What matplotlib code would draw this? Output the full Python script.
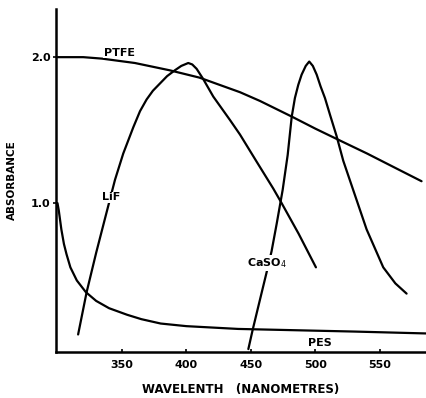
import matplotlib.pyplot as plt

# Absorbance spectra read along wavelength (nm)
ptfe_nm = [300, 320, 334.5, 360, 387, 410, 441.5, 457, 482.3, 500, 516.4, 540, 560, 582.3]
ptfe_abs = [2.0, 2.0, 1.99, 1.96, 1.91, 1.86, 1.76, 1.70, 1.59, 1.51, 1.44, 1.34, 1.25, 1.15]

lif_nm = [316, 322.6, 330, 337, 344.6, 351, 358.8, 364, 369.1, 374, 379.5, 385, 391, 396,
          401.4, 404.5, 407.9, 413, 420.8, 433.7, 441.5, 454, 467.3, 473.8, 487, 500.4]
lif_abs = [0.10, 0.39, 0.66, 0.90, 1.16, 1.34, 1.52, 1.63, 1.71, 1.77, 1.82, 1.87, 1.91, 1.94,
           1.96, 1.95, 1.92, 1.85, 1.73, 1.57, 1.47, 1.29, 1.10, 1.00, 0.79, 0.56]

caso4_nm = [448, 451.3, 455.4, 462, 466, 470, 474.6, 478.5, 481.6, 484.1, 486.7, 489.3,
            492.5, 495.2, 498, 501, 504, 507.4, 511.5, 516.4, 521.6, 529.3, 539.7, 552.6, 562, 570.7]
caso4_abs = [0.0, 0.13, 0.28, 0.52, 0.67, 0.86, 1.09, 1.33, 1.59, 1.72, 1.81, 1.88,
             1.94, 1.97, 1.94, 1.88, 1.80, 1.72, 1.60, 1.46, 1.29, 1.09, 0.82, 0.56, 0.45, 0.38]

pes_nm = [300, 301, 303, 305, 307, 310, 315, 322, 330, 340, 354, 365, 380, 400, 440, 480, 530, 586]
pes_abs = [1.0, 0.95, 0.82, 0.72, 0.65, 0.56, 0.47, 0.39, 0.33, 0.28, 0.235, 0.205, 0.175,
           0.157, 0.138, 0.13, 0.12, 0.107]

x_ticks = [350, 400, 450, 500, 550]
y_ticks = [1.0, 2.0]

fig = plt.figure(figsize=(4.27, 3.98), dpi=100)
ax = fig.add_axes([0.131, 0.1156, 0.8665, 0.8618])

for nm, ab in [(ptfe_nm, ptfe_abs), (lif_nm, lif_abs), (caso4_nm, caso4_abs), (pes_nm, pes_abs)]:
    ax.plot(nm, ab, color="black", lw=1.6, solid_joinstyle="round", solid_capstyle="round")

# curve names sit on a white patch so the line breaks around them
bold = dict(fontweight="bold", color="black", fontsize=8, ha="center", va="center",
            bbox=dict(facecolor="white", edgecolor="none", pad=0.5), zorder=5)
ax.text(347.7, 2.03, "PTFE", **bold)
ax.text(341.5, 1.04, "LiF", **bold)
ax.text(462.6, 0.59, "CaSO$_4$", **bold)
ax.text(503.5, 0.04, "PES", **bold)

ax.set_xlim(298.8, 585.7)
ax.set_ylim(-0.02, 2.33)
ax.set_xticks(x_ticks)
ax.set_yticks(y_ticks)
ax.set_xticklabels([str(t) for t in x_ticks], fontsize=8, fontweight="bold")
ax.set_yticklabels(["1.0", "2.0"], fontsize=8, fontweight="bold")
ax.tick_params(axis="x", direction="in", length=2, width=1.2, pad=6)
ax.tick_params(axis="y", direction="out", length=2, width=1.2, pad=2)

for side in ["top", "right"]:
    ax.spines[side].set_visible(False)
for side in ["left", "bottom"]:
    ax.spines[side].set_linewidth(1.8)

ax.set_xlabel("WAVELENTH   (NANOMETRES)", fontsize=8.5, fontweight="bold", labelpad=9)
ax.set_ylabel("ABSORBANCE", fontsize=7.5, fontweight="bold", labelpad=10)

fig.savefig("out.png", dpi=100)
